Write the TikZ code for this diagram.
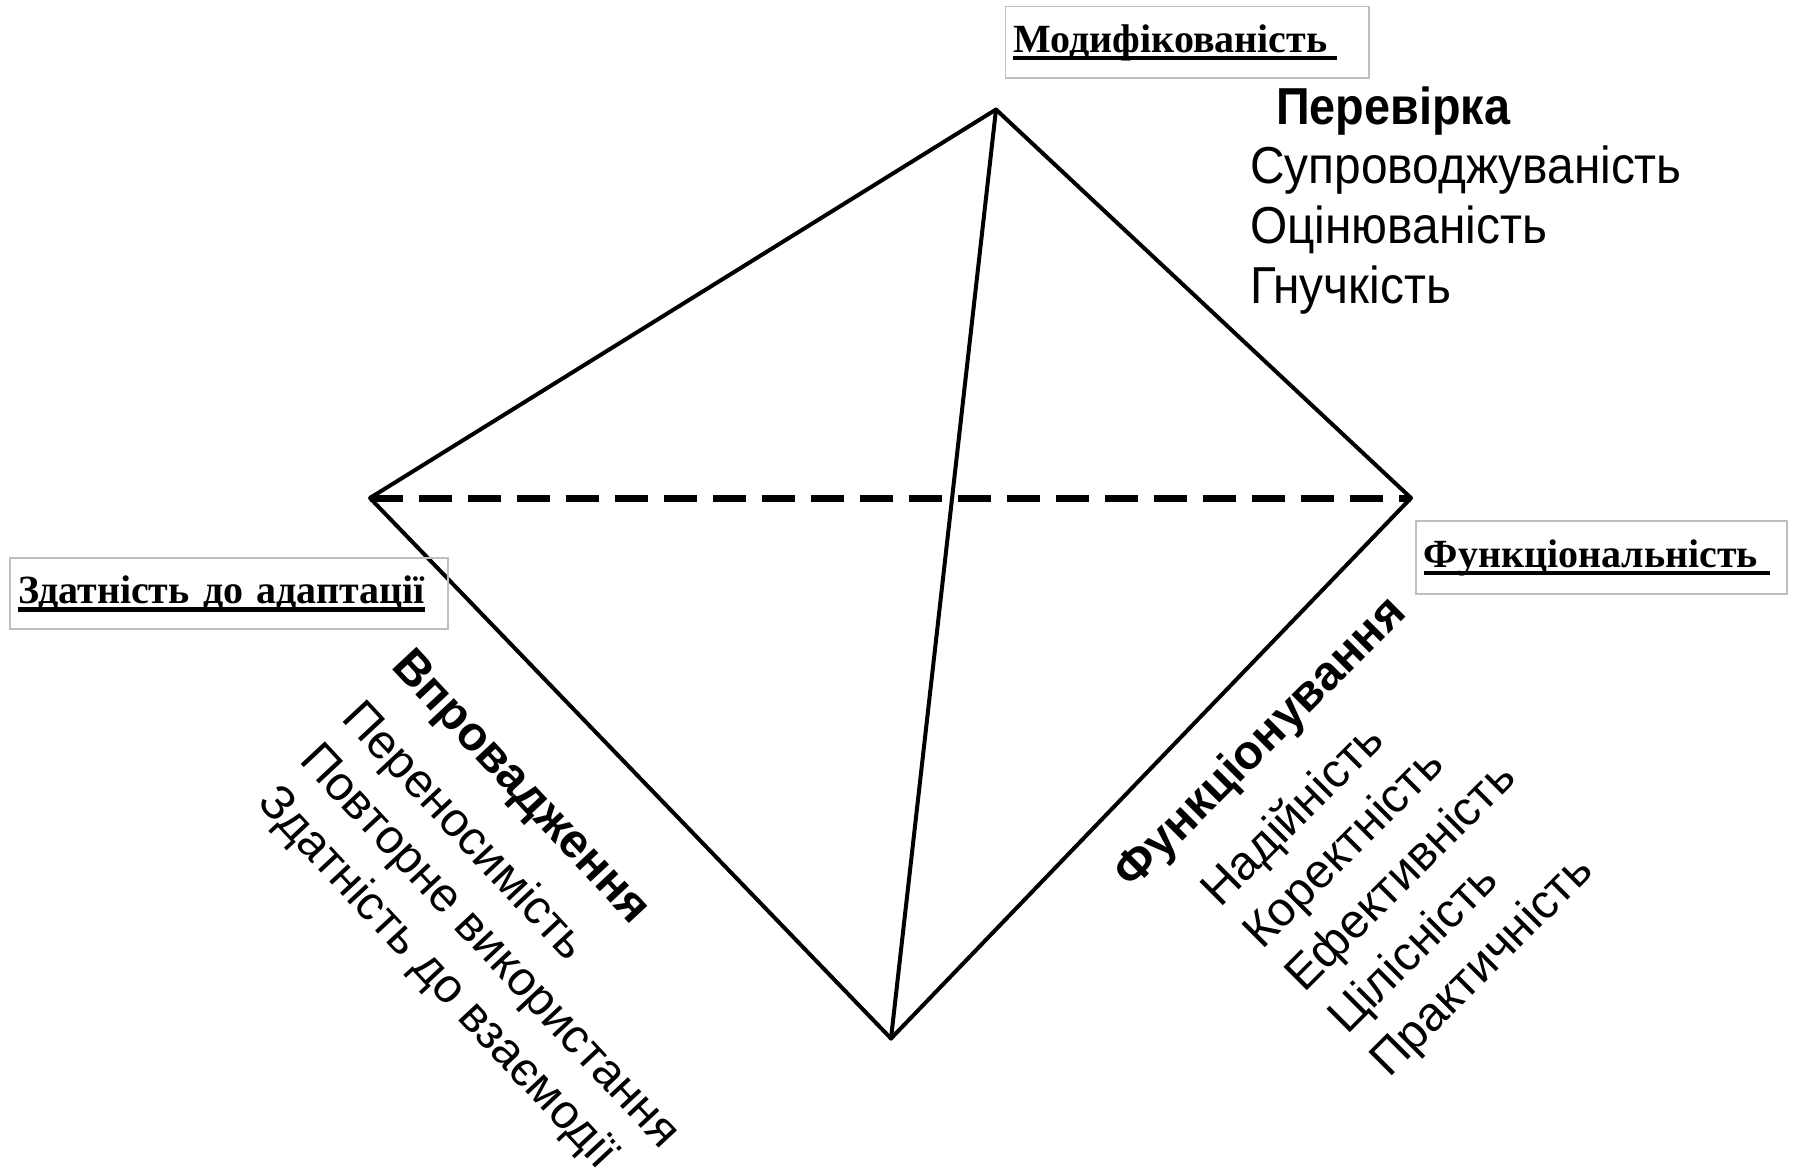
\documentclass[tikz,border=0pt]{standalone}
\usepackage{fontspec}
\setmainfont{Liberation Sans}
\newfontfamily\lserif{Liberation Serif}
\newfontfamily\lsnarrow[FakeStretch=0.92]{Liberation Sans}
\newfontfamily\lsnarrowb[FakeStretch=0.9]{Liberation Sans}
\newcommand\ulx[1]{\setbox0=\hbox{#1}\rlap{\rule[-8pt]{\wd0}{4.5pt}}\box0}
\begin{document}
\begin{tikzpicture}[x=1pt,y=1pt,
  edge/.style={line width=4pt, line join=round, line cap=round},
  dashedge/.style={line width=7pt, dash pattern=on 33pt off 16pt},
  lblbox/.style={draw=black!25, line width=1.5pt, anchor=north west, inner xsep=8pt, inner ysep=0pt,
    align=left, font=\lserif\bfseries\fontsize{40}{44}\selectfont, text height=30pt, text depth=10pt},
  toplist/.style={anchor=base west, inner sep=0pt, font=\lsnarrow\fontsize{52}{60}\selectfont},
  tophead/.style={anchor=base west, inner sep=0pt, font=\lsnarrowb\bfseries\fontsize{52}{60}\selectfont},
  leftitem/.style={anchor=base west, inner sep=0pt, rotate=-47, font=\fontsize{48}{58}\selectfont},
  lefthead/.style={leftitem, font=\bfseries\fontsize{48}{58}\selectfont},
  rightitem/.style={anchor=base west, inner sep=0pt, rotate=45, font=\fontsize{48}{58}\selectfont},
  righthead/.style={rightitem, font=\bfseries\fontsize{48}{58}\selectfont}]
\useasboundingbox (0,0) rectangle (1794,-1169);
\fill[white] (0,0) rectangle (1794,-1169);

\coordinate (T) at (996,-109.5);
\coordinate (L) at (370,-498);
\coordinate (R) at (1411,-498);
\coordinate (B) at (891,-1038.5);

\draw[edge] (T) -- (L) -- (B) -- (R) -- cycle;
\draw[edge] (T) -- (B);
\draw[dashedge] (L) -- (R);

\node[lblbox, minimum width=363.7pt, minimum height=71.5pt, text width=347.7pt] (mod) at (1004.6,-6) {\ulx{Модифікованість\hspace{10pt}}};
\node[lblbox, minimum width=438pt, minimum height=71pt, text width=422pt] (adapt) at (9.3,-557.3) {\ulx{Здатність до адаптації}};
\node[lblbox, minimum width=371pt, minimum height=73pt, text width=355pt] (func) at (1415,-520) {\ulx{Функціональність\hspace{12pt}}};

\node[tophead] (perevirka) at (1276,-125) {Перевірка};
\node[toplist] (suprov) at (1250,-184) {Супроводжуваність};
\node[toplist] (otsin) at (1250,-243.5) {Оцінюваність};
\node[toplist] (gnuch) at (1250,-303) {Гнучкість};

\node[lefthead] (vprov) at (390,-667) {Впровадження};
\node[leftitem] (perenos) at (340,-719) {Переносимість};
\node[leftitem] (povt) at (298,-761) {Повторне використання};
\node[leftitem] (vzaiem) at (256,-803) {Здатність до взаємодії};

\node[righthead] (funkts) at (1132,-891) {Функціонування};
\node[rightitem] (nadiin) at (1220,-909) {Надійність};
\node[rightitem] (korekt) at (1262,-951) {Коректність};
\node[rightitem] (efekt) at (1304,-994) {Ефективність};
\node[rightitem] (tsilis) at (1347,-1036) {Цілісність};
\node[rightitem] (prakt) at (1389,-1079) {Практичність};
\end{tikzpicture}
\end{document}
